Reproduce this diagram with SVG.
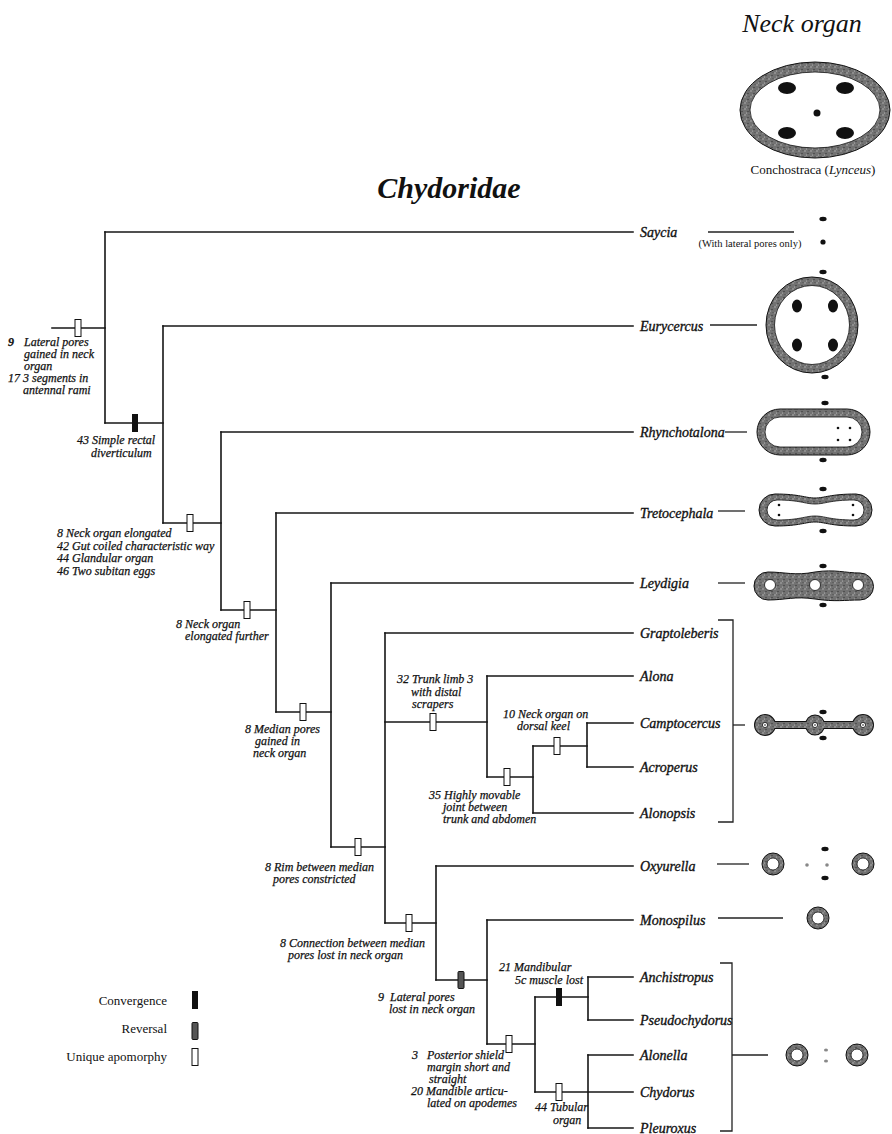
<svg xmlns="http://www.w3.org/2000/svg" xmlns:xlink="http://www.w3.org/1999/xlink" width="892" height="1134" viewBox="0 0 892 1134">
  <style>
    .br { stroke:#161616; stroke-width:1.6; fill:none; stroke-linecap:square; }
    .thin { stroke:#222; stroke-width:1.3; fill:none; }
    .tx { font-family:"Liberation Serif","Times New Roman",serif; font-style:italic; font-size:14px; fill:#111; stroke:#111; stroke-width:0.35; }
    .an { font-family:"Liberation Serif","Times New Roman",serif; font-style:italic; font-size:12px; fill:#111; stroke:#111; stroke-width:0.25; }
    .rm { font-family:"Liberation Serif","Times New Roman",serif; fill:#111; }
    .open { fill:#fff; stroke:#111; stroke-width:1; }
    .conv { fill:#111; }
    .rev { fill:#555; stroke:#111; stroke-width:1; }
    .ring { fill:url(#stip); stroke:#111; stroke-width:1; }
    .hole { fill:#fff; stroke:#111; stroke-width:0.8; }
    .pore { fill:#111; }
    .gdot { fill:#888; }
  </style>
  <defs>
    <pattern id="stip" width="6" height="6" patternUnits="userSpaceOnUse">
      <rect width="6" height="6" fill="#727272"/>
      <circle cx="1" cy="1" r="0.8" fill="#b0b0b0"/>
      <circle cx="4" cy="3.5" r="0.7" fill="#3a3a3a"/>
      <circle cx="2.5" cy="5" r="0.6" fill="#bcbcbc"/>
      <circle cx="5" cy="0.6" r="0.5" fill="#444"/>
    </pattern>
    <rect id="bOpen" x="-3" y="-8.5" width="6" height="17" class="open"/>
    <rect id="bConv" x="-3" y="-9" width="6" height="18" class="conv"/>
    <rect id="bRev" x="-3" y="-8.5" width="6" height="17" rx="1" class="rev"/>
    <ellipse id="poreH" rx="3.6" ry="2.2" class="pore"/>
  </defs>

  <rect width="892" height="1134" fill="#fff"/>

  <!-- headings -->
  <g id="heading">
    <text x="802" y="32" class="rm" font-style="italic" font-size="26" text-anchor="middle">Neck organ</text>
    <text x="449" y="198" class="rm" font-style="italic" font-weight="bold" font-size="30" text-anchor="middle">Chydoridae</text>
  </g>

  <!-- outgroup neck organ -->
  <g id="lynceus">
    <ellipse cx="815" cy="110" rx="75" ry="48" class="ring"/>
    <ellipse cx="815" cy="110" rx="65" ry="38" class="hole" stroke-width="1"/>
    <ellipse cx="787" cy="88" rx="9" ry="6" class="pore"/>
    <ellipse cx="845" cy="88" rx="9" ry="6" class="pore"/>
    <ellipse cx="787" cy="133" rx="9" ry="6" class="pore"/>
    <ellipse cx="845" cy="133" rx="9" ry="6" class="pore"/>
    <circle cx="817" cy="113" r="3.5" class="pore"/>
    <text x="813" y="174" class="rm" font-size="13" text-anchor="middle">Conchostraca (<tspan font-style="italic">Lynceus</tspan>)</text>
  </g>

  <!-- tree branches -->
  <g id="tree" class="br">
    <!-- verticals -->
    <line x1="105" y1="232" x2="105" y2="423"/>
    <line x1="163" y1="326" x2="163" y2="523"/>
    <line x1="221" y1="432" x2="221" y2="610"/>
    <line x1="276" y1="513" x2="276" y2="712"/>
    <line x1="331" y1="583" x2="331" y2="847"/>
    <line x1="385" y1="633" x2="385" y2="923"/>
    <line x1="487" y1="676" x2="487" y2="777"/>
    <line x1="533" y1="746" x2="533" y2="813"/>
    <line x1="587" y1="723" x2="587" y2="767"/>
    <line x1="436" y1="866" x2="436" y2="980"/>
    <line x1="487" y1="920" x2="487" y2="1044"/>
    <line x1="535" y1="997" x2="535" y2="1092"/>
    <line x1="588" y1="977" x2="588" y2="1020"/>
    <line x1="588" y1="1055" x2="588" y2="1128"/>
    <!-- horizontals -->
    <line x1="52" y1="328" x2="105" y2="328"/>
    <line x1="105" y1="232" x2="633" y2="232"/>
    <line x1="105" y1="423" x2="163" y2="423"/>
    <line x1="163" y1="326" x2="633" y2="326"/>
    <line x1="163" y1="523" x2="221" y2="523"/>
    <line x1="221" y1="432" x2="633" y2="432"/>
    <line x1="221" y1="610" x2="276" y2="610"/>
    <line x1="276" y1="513" x2="633" y2="513"/>
    <line x1="276" y1="712" x2="331" y2="712"/>
    <line x1="331" y1="583" x2="633" y2="583"/>
    <line x1="331" y1="847" x2="385" y2="847"/>
    <line x1="385" y1="633" x2="633" y2="633"/>
    <line x1="385" y1="722" x2="487" y2="722"/>
    <line x1="487" y1="676" x2="633" y2="676"/>
    <line x1="487" y1="777" x2="533" y2="777"/>
    <line x1="533" y1="746" x2="587" y2="746"/>
    <line x1="587" y1="723" x2="633" y2="723"/>
    <line x1="587" y1="767" x2="633" y2="767"/>
    <line x1="533" y1="813" x2="633" y2="813"/>
    <line x1="385" y1="923" x2="436" y2="923"/>
    <line x1="436" y1="866" x2="633" y2="866"/>
    <line x1="436" y1="980" x2="487" y2="980"/>
    <line x1="487" y1="920" x2="633" y2="920"/>
    <line x1="487" y1="1044" x2="535" y2="1044"/>
    <line x1="535" y1="997" x2="588" y2="997"/>
    <line x1="588" y1="977" x2="633" y2="977"/>
    <line x1="588" y1="1020" x2="633" y2="1020"/>
    <line x1="535" y1="1092" x2="633" y2="1092"/>
    <line x1="588" y1="1055" x2="633" y2="1055"/>
    <line x1="588" y1="1128" x2="633" y2="1128"/>
  </g>

  <!-- character state bars -->
  <g id="bars">
    <use xlink:href="#bOpen" x="78" y="328"/>
    <use xlink:href="#bConv" x="135" y="423"/>
    <use xlink:href="#bOpen" x="190" y="523"/>
    <use xlink:href="#bOpen" x="247" y="610"/>
    <use xlink:href="#bOpen" x="303" y="712"/>
    <use xlink:href="#bOpen" x="358" y="847"/>
    <use xlink:href="#bOpen" x="433" y="722"/>
    <use xlink:href="#bOpen" x="507" y="777"/>
    <use xlink:href="#bOpen" x="557" y="746"/>
    <use xlink:href="#bOpen" x="409" y="923"/>
    <use xlink:href="#bRev" x="461" y="980"/>
    <use xlink:href="#bOpen" x="509" y="1044"/>
    <use xlink:href="#bConv" x="559" y="997"/>
    <use xlink:href="#bOpen" x="559" y="1092"/>
  </g>

  <!-- character annotations -->
  <g id="ann-root" class="an">
    <text x="8" y="346" font-weight="bold">9</text>
    <text x="24" y="346">Lateral pores</text>
    <text x="24" y="358">gained in neck</text>
    <text x="24" y="370">organ</text>
    <text x="8" y="382">17</text>
    <text x="23" y="382">3 segments in</text>
    <text x="23" y="394">antennal rami</text>
  </g>
  <g id="ann-43" class="an">
    <text x="77" y="444">43 Simple rectal</text>
    <text x="91" y="457">diverticulum</text>
  </g>
  <g id="ann-8a" class="an">
    <text x="57" y="537">8 Neck organ elongated</text>
    <text x="57" y="550">42 Gut coiled characteristic way</text>
    <text x="57" y="562">44 Glandular organ</text>
    <text x="57" y="575">46 Two subitan eggs</text>
  </g>
  <g id="ann-8b" class="an">
    <text x="176" y="628">8 Neck organ</text>
    <text x="185" y="640">elongated further</text>
  </g>
  <g id="ann-8c" class="an">
    <text x="245" y="733">8 Median pores</text>
    <text x="255" y="745">gained in</text>
    <text x="253" y="757">neck organ</text>
  </g>
  <g id="ann-32" class="an">
    <text x="397" y="683">32 Trunk limb 3</text>
    <text x="411" y="696">with distal</text>
    <text x="412" y="708">scrapers</text>
  </g>
  <g id="ann-10" class="an">
    <text x="503" y="718">10 Neck organ on</text>
    <text x="517" y="730">dorsal keel</text>
  </g>
  <g id="ann-35" class="an">
    <text x="429" y="799">35 Highly movable</text>
    <text x="443" y="811">joint between</text>
    <text x="443" y="823">trunk and abdomen</text>
  </g>
  <g id="ann-8d" class="an">
    <text x="265" y="871">8 Rim between median</text>
    <text x="273" y="883">pores constricted</text>
  </g>
  <g id="ann-8e" class="an">
    <text x="280" y="947">8 Connection between median</text>
    <text x="288" y="959">pores lost in neck organ</text>
  </g>
  <g id="ann-9" class="an">
    <text x="378" y="1001">9</text>
    <text x="390" y="1001">Lateral pores</text>
    <text x="389" y="1013">lost in neck organ</text>
  </g>
  <g id="ann-21" class="an">
    <text x="499" y="971">21 Mandibular</text>
    <text x="515" y="984">5c muscle lost</text>
  </g>
  <g id="ann-3" class="an">
    <text x="412" y="1059">3</text>
    <text x="427" y="1059">Posterior shield</text>
    <text x="427" y="1071">margin short and</text>
    <text x="429" y="1083">straight</text>
    <text x="411" y="1095">20 Mandible articu-</text>
    <text x="427" y="1107">lated on apodemes</text>
  </g>
  <g id="ann-44" class="an">
    <text x="535" y="1111">44 Tubular</text>
    <text x="553" y="1124">organ</text>
  </g>

  <!-- terminal taxa -->
  <g id="taxa" class="tx">
    <text x="640" y="237">Saycia</text>
    <text x="640" y="331">Eurycercus</text>
    <text x="640" y="437">Rhynchotalona</text>
    <text x="640" y="518">Tretocephala</text>
    <text x="640" y="588">Leydigia</text>
    <text x="640" y="638">Graptoleberis</text>
    <text x="640" y="681">Alona</text>
    <text x="640" y="728">Camptocercus</text>
    <text x="640" y="772">Acroperus</text>
    <text x="640" y="818">Alonopsis</text>
    <text x="640" y="871">Oxyurella</text>
    <text x="640" y="925">Monospilus</text>
    <text x="640" y="982">Anchistropus</text>
    <text x="640" y="1025">Pseudochydorus</text>
    <text x="640" y="1060">Alonella</text>
    <text x="640" y="1097">Chydorus</text>
    <text x="640" y="1133">Pleuroxus</text>
  </g>

  <!-- leaders from taxa to organ sketches -->
  <g id="leaders" class="thin">
    <line x1="708" y1="232" x2="794" y2="232"/>
    <line x1="710" y1="325" x2="757" y2="325"/>
    <line x1="725" y1="432" x2="747" y2="432"/>
    <line x1="718" y1="511" x2="745" y2="511"/>
    <line x1="718" y1="583" x2="745" y2="583"/>
    <polyline points="718,620 733,620 733,822 718,822"/>
    <line x1="733" y1="725" x2="745" y2="725"/>
    <line x1="717" y1="864" x2="749" y2="864"/>
    <line x1="718" y1="918" x2="783" y2="918"/>
    <polyline points="720,963 732,963 732,1131 720,1131"/>
    <line x1="732" y1="1055" x2="768" y2="1055"/>
  </g>

  <!-- neck organ sketches -->
  <g id="organ-saycia">
    <text x="750" y="247" class="rm" font-size="10.5" text-anchor="middle">(With lateral pores only)</text>
    <use xlink:href="#poreH" x="823" y="219"/>
    <circle cx="823" cy="242" r="2.6" class="pore"/>
  </g>

  <g id="organ-eurycercus">
    <ellipse cx="812" cy="325" rx="46" ry="48" class="ring"/>
    <ellipse cx="812" cy="325" rx="37.5" ry="39.5" class="hole" stroke-width="1"/>
    <ellipse cx="797" cy="306" rx="5" ry="6.5" class="pore"/>
    <ellipse cx="833" cy="306" rx="5" ry="6.5" class="pore"/>
    <ellipse cx="797" cy="345" rx="5" ry="6.5" class="pore"/>
    <ellipse cx="833" cy="345" rx="5" ry="6.5" class="pore"/>
    <use xlink:href="#poreH" x="823" y="272"/>
    <use xlink:href="#poreH" x="825" y="377"/>
  </g>

  <g id="organ-rhynchotalona">
    <rect x="757" y="409" width="113" height="46" rx="23" class="ring"/>
    <rect x="765" y="417" width="97" height="30" rx="15" class="hole" stroke-width="1"/>
    <circle cx="838" cy="428" r="1.3" class="pore"/>
    <circle cx="850" cy="428" r="1.3" class="pore"/>
    <circle cx="838" cy="440" r="1.3" class="pore"/>
    <circle cx="850" cy="440" r="1.3" class="pore"/>
    <use xlink:href="#poreH" x="825" y="403"/>
    <use xlink:href="#poreH" x="823" y="460"/>
  </g>

  <g id="organ-tretocephala">
    <path class="ring" d="M775,494 C800,494 805,498 815,498 C825,498 830,494 856,494 A16,16 0 0 1 856,526 C830,526 825,522 815,522 C805,522 800,526 775,526 A16,16 0 0 1 775,494 Z"/>
    <path class="hole" stroke-width="1" d="M777,500 C800,500 805,504 815,504 C825,504 830,500 854,500 A10,10 0 0 1 854,520 C830,520 825,516 815,516 C805,516 800,520 777,520 A10,10 0 0 1 777,500 Z"/>
    <circle cx="779" cy="505" r="1.3" class="pore"/>
    <circle cx="779" cy="515" r="1.3" class="pore"/>
    <circle cx="853" cy="505" r="1.3" class="pore"/>
    <circle cx="853" cy="515" r="1.3" class="pore"/>
    <use xlink:href="#poreH" x="823" y="489"/>
    <use xlink:href="#poreH" x="823" y="531"/>
  </g>

  <g id="organ-leydigia">
    <path class="ring" d="M768,572 C785,572 795,576 815,572 C835,569 845,573 860,573 A13.5,13.5 0 0 1 860,600 C845,600 835,602 815,599 C795,596 785,600 768,600 A14,14 0 0 1 768,572 Z"/>
    <circle cx="770" cy="585" r="5.5" class="hole"/>
    <circle cx="815" cy="585" r="5.5" class="hole"/>
    <circle cx="858" cy="585" r="5.5" class="hole"/>
    <use xlink:href="#poreH" x="823" y="566"/>
    <use xlink:href="#poreH" x="823" y="605"/>
  </g>

  <g id="organ-camptocercus">
    <!-- outline pass, then fill pass, so only the union edge shows -->
    <g fill="#111" stroke="#111" stroke-width="2">
      <circle cx="765" cy="725" r="10"/>
      <ellipse cx="815" cy="725" rx="9" ry="9.5"/>
      <circle cx="863" cy="725" r="10"/>
      <rect x="765" y="722" width="98" height="6"/>
    </g>
    <g fill="url(#stip)">
      <circle cx="765" cy="725" r="10"/>
      <ellipse cx="815" cy="725" rx="9" ry="9.5"/>
      <circle cx="863" cy="725" r="10"/>
      <rect x="765" y="722" width="98" height="6"/>
    </g>
    <circle cx="765" cy="725" r="2.6" class="hole"/>
    <circle cx="815" cy="725" r="2.6" class="hole"/>
    <circle cx="863" cy="725" r="2.6" class="hole"/>
    <circle cx="765" cy="725" r="0.8" class="pore"/>
    <circle cx="815" cy="725" r="0.8" class="pore"/>
    <circle cx="863" cy="725" r="0.8" class="pore"/>
    <use xlink:href="#poreH" x="823" y="712"/>
    <use xlink:href="#poreH" x="823" y="738"/>
  </g>

  <g id="organ-oxyurella">
    <circle cx="773" cy="864" r="11" class="ring"/>
    <circle cx="773" cy="864" r="6" class="hole"/>
    <circle cx="863" cy="864" r="11" class="ring"/>
    <circle cx="863" cy="864" r="6" class="hole"/>
    <circle cx="807" cy="865" r="1.8" class="gdot"/>
    <circle cx="827" cy="865" r="1.8" class="gdot"/>
    <use xlink:href="#poreH" x="825" y="849"/>
    <use xlink:href="#poreH" x="825" y="878"/>
  </g>

  <g id="organ-monospilus">
    <circle cx="818" cy="918" r="11" class="ring"/>
    <circle cx="818" cy="918" r="6" class="hole"/>
  </g>

  <g id="organ-chydorinae">
    <circle cx="797" cy="1055" r="11" class="ring"/>
    <circle cx="797" cy="1055" r="6" class="hole"/>
    <circle cx="857" cy="1055" r="11" class="ring"/>
    <circle cx="857" cy="1055" r="6" class="hole"/>
    <ellipse cx="826" cy="1050" rx="2" ry="1.5" class="gdot"/>
    <ellipse cx="826" cy="1061" rx="2" ry="1.5" class="gdot"/>
  </g>

  <!-- key -->
  <g id="legend" class="rm" font-size="13">
    <text x="167" y="1005" text-anchor="end">Convergence</text>
    <text x="167" y="1033" text-anchor="end">Reversal</text>
    <text x="167" y="1061" text-anchor="end">Unique apomorphy</text>
    <use xlink:href="#bConv" x="195" y="1000"/>
    <use xlink:href="#bRev" x="195" y="1031"/>
    <use xlink:href="#bOpen" x="195" y="1057"/>
  </g>
</svg>
